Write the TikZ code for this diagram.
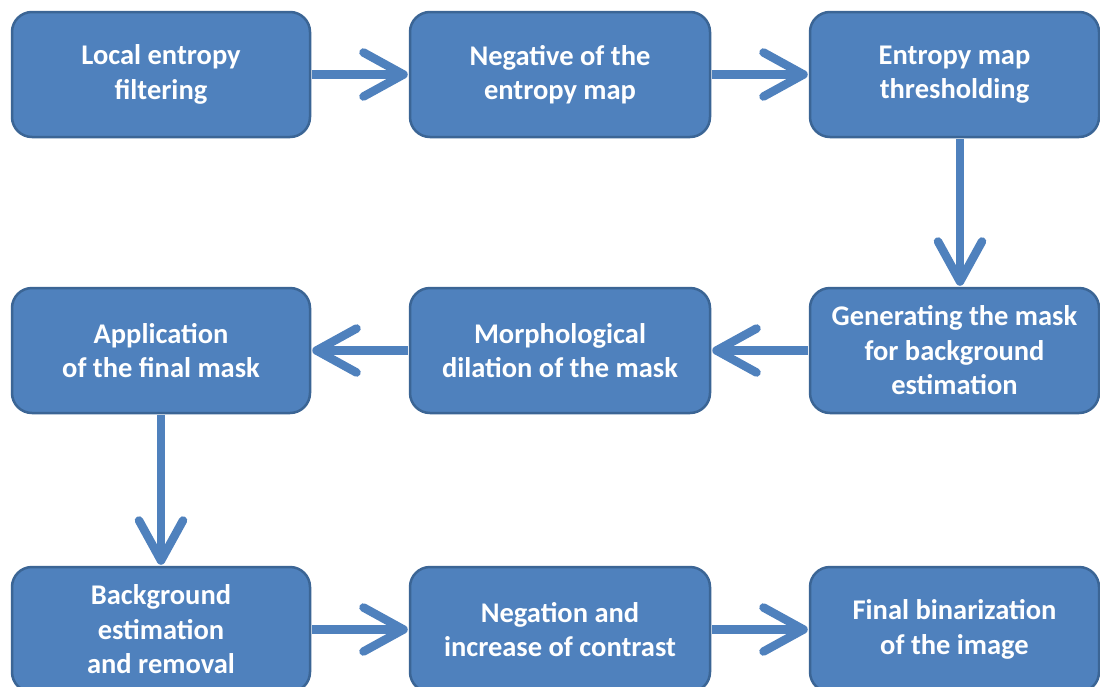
\documentclass[tikz,border=0pt]{standalone}
\usepackage{fontspec}
\setmainfont{Carlito}
\usetikzlibrary{arrows.meta}
\definecolor{boxfill}{HTML}{4F81BD}
\definecolor{boxline}{HTML}{3B6595}
\definecolor{arrowblue}{HTML}{4F81BD}
\begin{document}
\begin{tikzpicture}[x=1pt,y=-1pt,
  stepbox/.style={draw=boxline, line width=2.5pt, fill=boxfill, rounded corners=20pt,
    minimum height=125pt, inner sep=0pt, text=white,
    font=\bfseries\fontsize{28.5}{34.5}\selectfont, align=center},
  colA/.style={minimum width=298pt},
  colB/.style={minimum width=300pt},
  colC/.style={minimum width=289pt},
  flow/.style={draw=arrowblue, line width=8.5pt,
    -{Straight Barb[length=40pt,width=44pt,round]}, shorten >=1pt, shorten <=1pt}]
\clip (0,0) rectangle (1100,686);
\fill[white] (0,0) rectangle (1100,686);

% first row
\node[stepbox, colA] (lef) at (161,74.5) {Local entropy\\filtering};
\node[stepbox, colB] (neg) at (560,74.5) {Negative of the\\entropy map};
\node[stepbox, colC] (thr) at (954.5,74.5) {Entropy map\\thresholding};
% second row
\node[stepbox, colA] (app) at (161,350.5) {Application\\of the final mask};
\node[stepbox, colB] (dil) at (560,350.5) {Morphological\\dilation of the mask};
\node[stepbox, colC] (gen) at (954.5,350.5) {Generating the mask\\for background\\estimation};
% third row
\node[stepbox, colA] (bgr) at (161,629.5) {Background\\estimation\\and removal};
\node[stepbox, colB] (ctr) at (560,629.5) {Negation and\\increase of contrast};
\node[stepbox, colC] (bin) at (954.5,629.5) {Final binarization\\of the image};

% connectors
\draw[flow] (lef) -- (neg);
\draw[flow] (neg) -- (thr);
\draw[flow] ([xshift=5.5pt]thr.south) -- ([xshift=5.5pt]gen.north);
\draw[flow] (gen) -- (dil);
\draw[flow] (dil) -- (app);
\draw[flow] (app) -- (bgr);
\draw[flow] (bgr) -- (ctr);
\draw[flow] (ctr) -- (bin);
\end{tikzpicture}
\end{document}
